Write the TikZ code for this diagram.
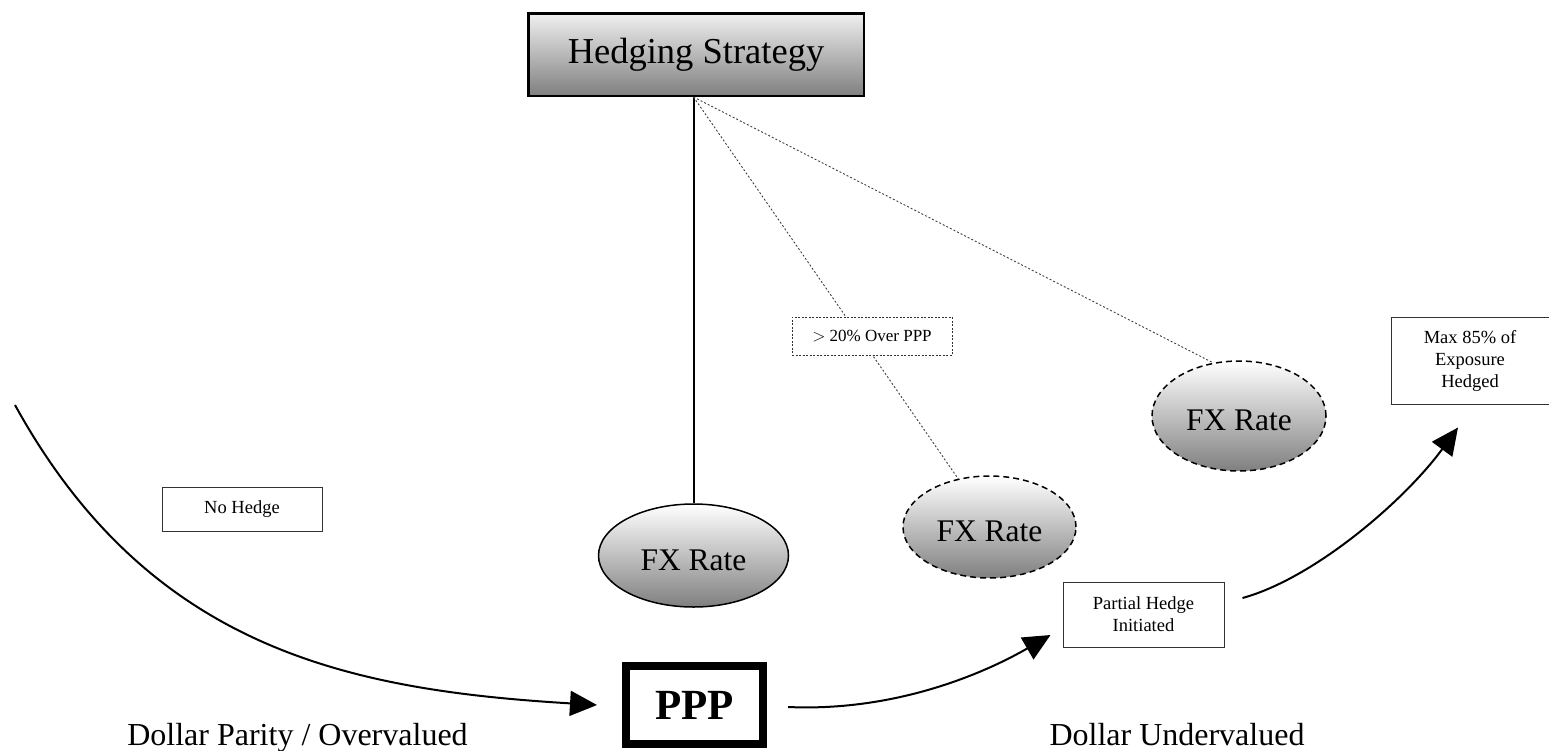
\documentclass[tikz,border=0pt]{standalone}
\usepackage{fontspec}
\setmainfont{Liberation Serif}
\usetikzlibrary{arrows.meta,shapes.geometric}
\begin{document}
\begin{tikzpicture}[x=1pt,y=-1pt,
  hedgebox/.style={draw, line width=2.5pt, top color=black!6, bottom color=black!50,
    minimum width=335.5pt, minimum height=82.5pt, inner sep=0pt,
    font=\fontsize{36.5}{40}\selectfont},
  fxsolid/.style={ellipse, draw, line width=1.5pt, top color=white, bottom color=black!50,
    inner sep=0pt, text height=29pt, text depth=0pt, font=\fontsize{31.5}{36}\selectfont},
  fxdash/.style={fxsolid, dash pattern=on 6pt off 4pt},
  smallbox/.style={draw=black!80, line width=1pt, fill=white, inner sep=0pt, align=center,
    font=\fontsize{18.5}{22}\selectfont},
  dotbox/.style={smallbox, dash pattern=on 2pt off 1.5pt, font=\fontsize{17}{20}\selectfont},
  pppbox/.style={draw, line width=8pt, minimum width=137pt, minimum height=78pt, inner sep=0pt,
    font=\bfseries\fontsize{43}{48}\selectfont},
  biglabel/.style={anchor=base, inner sep=0pt, font=\fontsize{32}{36}\selectfont},
  dotline/.style={draw=black!75, line width=0.9pt, dash pattern=on 2pt off 2pt},
  arr/.style={line width=2pt, -{Triangle[length=27pt,width=25pt]}}
]
\useasboundingbox (0,0) rectangle (1549,750);

% nodes
\node[hedgebox] (hedge) at (696,54.5) {Hedging Strategy};
\node[fxsolid, minimum width=190pt, minimum height=103pt] (fx1) at (693.5,555.5) {FX Rate};
\node[fxdash, minimum width=173pt, minimum height=102pt] (fx2) at (989.5,527) {FX Rate};
\node[fxdash, minimum width=174pt, minimum height=110pt] (fx3) at (1239,416) {FX Rate};
\coordinate (top) at (hedge.south -| fx1);

% connectors from the hedging box
\draw[line width=2pt] (top) -- (fx1.north);
\draw[dotline] (top) -- (fx2.123);
\draw[dotline] (top) -- (fx3.116);

\node[dotbox, minimum width=160pt, minimum height=38pt] (over) at (872,336) {$>$ 20\% Over PPP};
\node[smallbox, minimum width=160pt, minimum height=44pt] (nohedge) at (242,509) {No Hedge};
\node[smallbox, minimum width=161pt, minimum height=65pt] (partial) at (1143.5,614.5) {Partial Hedge\\Initiated};
\node[smallbox, minimum width=158pt, minimum height=87pt] (max) at (1470,360.5) {Max 85\% of\\Exposure\\Hedged};
\node[pppbox] (ppp) at (694.5,705) {PPP};

\node[biglabel] (parity) at (297.5,745) {Dollar Parity / Overvalued};
\node[biglabel] (under) at (1177,745) {Dollar Undervalued};

% curved arrows
\coordinate (s1) at (15,405);
\draw[arr] (s1) .. controls (150,650) and (350,690) .. ([xshift=-25pt]ppp.west);
\draw[arr] ([xshift=21pt,yshift=-2pt]ppp.east) .. controls (900,712) and (990,670) .. ([xshift=-12pt,yshift=-20.5pt]partial.west);
\draw[arr] ([xshift=18pt,yshift=16.5pt]partial.east) .. controls (1315,578) and (1405,500) .. ([xshift=-12pt,yshift=-23pt]max.south);
\end{tikzpicture}
\end{document}
